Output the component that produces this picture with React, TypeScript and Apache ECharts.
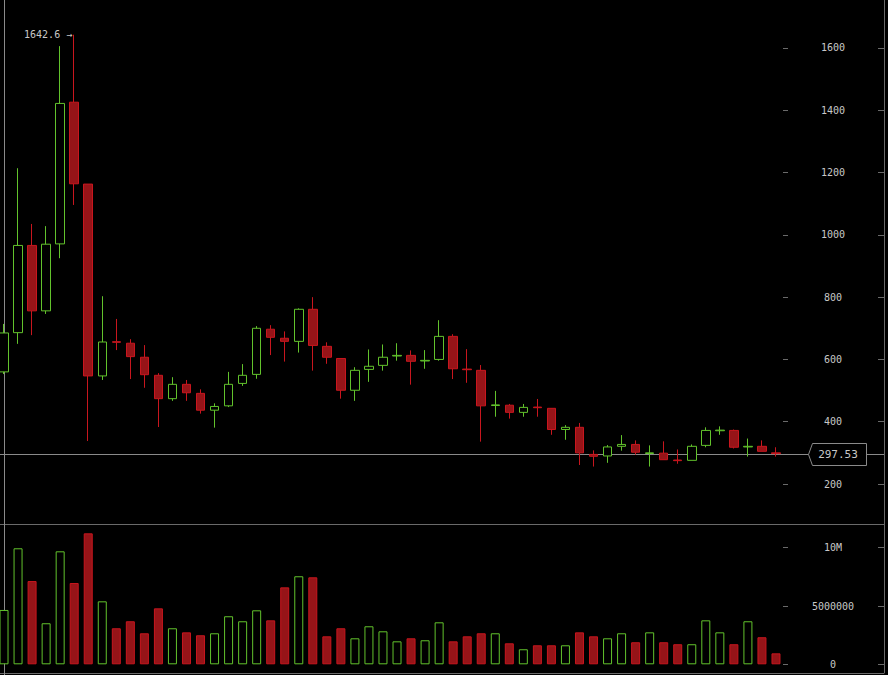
import React, { useEffect, useRef } from "react";
import * as echarts from "echarts";

const categories = [
  "W01","W02","W03","W04","W05","W06","W07","W08","W09","W10",
  "W11","W12","W13","W14","W15","W16","W17","W18","W19","W20",
  "W21","W22","W23","W24","W25","W26","W27","W28","W29","W30",
  "W31","W32","W33","W34","W35","W36","W37","W38","W39","W40",
  "W41","W42","W43","W44","W45","W46","W47","W48","W49","W50",
  "W51","W52","W53","W54","W55","W56",
];

const opens = [
  560, 686, 966, 756, 971, 1426, 1163, 547, 657, 652,
  607, 549, 474, 520, 491, 437, 451, 523, 552, 697,
  668, 658, 761, 642, 603, 501, 568, 581, 611, 613,
  595, 600, 674, 569, 565, 452, 453, 430, 447, 443,
  375, 382, 295, 290, 321, 327, 298, 299, 277, 276,
  324, 371, 372, 319, 321, 300,
];
const closes = [
  685, 966, 756, 970, 1422, 1164, 547, 656, 655, 609,
  551, 474, 520, 493, 437, 449, 520, 549, 700, 671,
  658, 761, 645, 607, 501, 565, 578, 607, 613, 594,
  597, 674, 570, 567, 451, 454, 430, 446, 445, 375,
  382, 300, 289, 319, 327, 302, 300, 278, 275, 321,
  372, 373, 318, 321, 305, 297.53,
];
const lows = [
  553, 650, 678, 746, 925, 1096, 338, 534, 630, 537,
  509, 383, 467, 467, 426, 381, 447, 515, 538, 614,
  593, 622, 564, 586, 474, 467, 528, 564, 596, 519,
  570, 596, 537, 525, 336, 416, 410, 416, 416, 358,
  342, 261, 256, 268, 307, 294, 256, 278, 265, 276,
  318, 358, 314, 288, 305, 288,
];
const highs = [
  714, 1214, 1035, 1028, 1606, 1642.6, 1163, 803, 730, 665,
  646, 556, 543, 534, 504, 459, 560, 585, 707, 710,
  690, 764, 800, 655, 603, 575, 632, 648, 652, 629,
  630, 726, 681, 633, 582, 499, 457, 457, 473, 443,
  389, 396, 308, 325, 357, 340, 324, 337, 311, 327,
  382, 385, 375, 346, 340, 318,
];
const volumes = [
  4660000, 9950000, 7140000, 3520000, 9690000, 6970000, 11230000, 5400000, 3090000, 3690000,
  2660000, 4800000, 3090000, 2740000, 2490000, 2660000, 4120000, 3690000, 4630000, 3770000,
  6600000, 7550000, 7460000, 2400000, 3090000, 2230000, 3260000, 2830000, 1970000, 2230000,
  2060000, 3600000, 1970000, 2400000, 2660000, 2660000, 1800000, 1290000, 1630000, 1630000,
  1630000, 2740000, 2400000, 2230000, 2660000, 1890000, 2740000, 1890000, 1720000, 1720000,
  3770000, 2740000, 1720000, 3690000, 2320000, 940000,
];

const priceTicks = [200, 400, 600, 800, 1000, 1200, 1400, 1600];
const volumeTicks = [0, 5000000, 10000000];
const volumeTickLabels = ["0", "5000000", "10M"];
const lastPrice = 297.53;

const GREEN = "#62c22c";
const RED_FILL = "#961418";
const RED_LINE = "#c8161e";
const TEXT = "#c8c8c8";
const LINE = "#6a6a6a";
const MONO = "'DejaVu Sans Mono', 'Liberation Mono', monospace";

export default function App() {
  const ref = useRef<HTMLDivElement>(null);

  useEffect(() => {
    if (!ref.current) return;
    const chart = echarts.init(ref.current, null, { renderer: "svg" });

    const candleData = categories.map((_, i) => [opens[i], closes[i], lows[i], highs[i]]);
    const volData = categories.map((_, i) => {
      const up = closes[i] >= opens[i];
      return {
        value: volumes[i],
        itemStyle: up
          ? { color: "#000", borderColor: GREEN, borderWidth: 1 }
          : { color: RED_FILL, borderColor: RED_LINE, borderWidth: 1 },
      };
    });

    const gridLeft = -3;
    const gridWidth = 786;
    const priceMin = 200 - (524 - 484) * 3.211;
    const priceMax = 200 + 484 * 3.211;
    const volPx = 11.66 / 1000000;
    const volMin = -(673 - 664.3) / volPx;
    const volMax = (664.3 - 524) / volPx;

    const labelStyle = { color: TEXT, fontFamily: MONO, fontSize: 10 };

    const priceAxisBase = {
      type: "value",
      gridIndex: 0,
      min: priceMin,
      max: priceMax,
      position: "right",
      splitLine: { show: false },
    };
    const volAxisBase = {
      type: "value",
      gridIndex: 1,
      min: volMin,
      max: volMax,
      position: "right",
      splitLine: { show: false },
    };

    chart.setOption({
      animation: false,
      backgroundColor: "#000",
      grid: [
        { left: gridLeft, top: 0, width: gridWidth, height: 524, outerBoundsMode: "none", containLabel: false },
        { left: gridLeft, top: 524, width: gridWidth, height: 149, outerBoundsMode: "none", containLabel: false },
      ],
      xAxis: [
        {
          type: "category",
          gridIndex: 0,
          data: categories,
          boundaryGap: true,
          axisLine: { show: false },
          axisTick: { show: false },
          axisLabel: { show: false },
        },
        {
          type: "category",
          gridIndex: 1,
          data: categories,
          boundaryGap: true,
          axisLine: { show: false },
          axisTick: { show: false },
          axisLabel: { show: false },
        },
      ],
      yAxis: [
        {
          ...priceAxisBase,
          offset: 0,
          axisLine: { show: false },
          axisTick: { show: true, length: 5, inside: false, lineStyle: { color: LINE }, customValues: priceTicks },
          axisLabel: { ...labelStyle, align: "center", margin: 50, customValues: priceTicks, formatter: (v: number) => String(v) },
        },
        {
          ...priceAxisBase,
          offset: 101,
          axisLine: { show: true, lineStyle: { color: LINE } },
          axisTick: { show: true, length: 6, inside: true, lineStyle: { color: LINE }, customValues: priceTicks },
          axisLabel: { show: false },
        },
        {
          ...volAxisBase,
          offset: 0,
          axisLine: { show: false },
          axisTick: { show: true, length: 5, inside: false, lineStyle: { color: LINE }, customValues: volumeTicks },
          axisLabel: {
            ...labelStyle,
            align: "center",
            margin: 50,
            customValues: volumeTicks,
            formatter: (v: number) => {
              const k = volumeTicks.indexOf(v);
              return k >= 0 ? volumeTickLabels[k] : "";
            },
          },
        },
        {
          ...volAxisBase,
          offset: 101,
          axisLine: { show: true, lineStyle: { color: LINE } },
          axisTick: { show: true, length: 6, inside: true, lineStyle: { color: LINE }, customValues: volumeTicks },
          axisLabel: { show: false },
        },
      ],
      series: [
        {
          type: "candlestick",
          xAxisIndex: 0,
          yAxisIndex: 0,
          data: candleData,
          barWidth: 9,
          itemStyle: {
            color: "#000",
            color0: RED_FILL,
            borderColor: GREEN,
            borderColor0: RED_LINE,
            borderWidth: 1,
          },
          markPoint: {
            symbol: "circle",
            symbolSize: 0,
            data: [{ type: "max", valueDim: "highest" }],
            label: {
              show: true,
              position: "left",
              distance: 2,
              color: TEXT,
              fontFamily: MONO,
              fontSize: 10,
              formatter: (p: any) => `${p.value} \u2192`,
            },
          },
        },
        {
          type: "bar",
          xAxisIndex: 1,
          yAxisIndex: 2,
          data: volData,
          barWidth: 9,
        },
      ],
    });

    const y = Math.round(chart.convertToPixel({ yAxisIndex: 0 }, lastPrice) as number) + 0.5;

    chart.setOption({
      graphic: [
        { type: "line", z: -1, shape: { x1: 0, y1: 524.5, x2: 884, y2: 524.5 }, style: { stroke: LINE, lineWidth: 1 } },
        { type: "line", z: -1, shape: { x1: 0, y1: 673.5, x2: 884, y2: 673.5 }, style: { stroke: LINE, lineWidth: 1 } },
        { type: "line", z: -1, shape: { x1: 4.5, y1: 0, x2: 4.5, y2: 675 }, style: { stroke: "#8a8a8a", lineWidth: 1 } },
        { type: "line", z: -1, shape: { x1: 0, y1: y, x2: 884, y2: y }, style: { stroke: "#8a8a8a", lineWidth: 1 } },
        {
          type: "polygon",
          z: 10,
          shape: { points: [[808.5, y], [812.5, y - 11], [866.5, y - 11], [866.5, y + 11], [812.5, y + 11]] },
          style: { fill: "#000", stroke: "#8a8a8a", lineWidth: 1 },
        },
        {
          type: "text",
          z: 11,
          x: 838,
          y: y,
          style: {
            text: String(lastPrice),
            fill: TEXT,
            font: `11px ${MONO}`,
            align: "center",
            verticalAlign: "middle",
          },
        },
      ],
    });

    return () => chart.dispose();
  }, []);

  return (
    <div
      ref={ref}
      style={{ position: "fixed", left: 0, top: 0, width: 888, height: 675, background: "#000" }}
    />
  );
}
